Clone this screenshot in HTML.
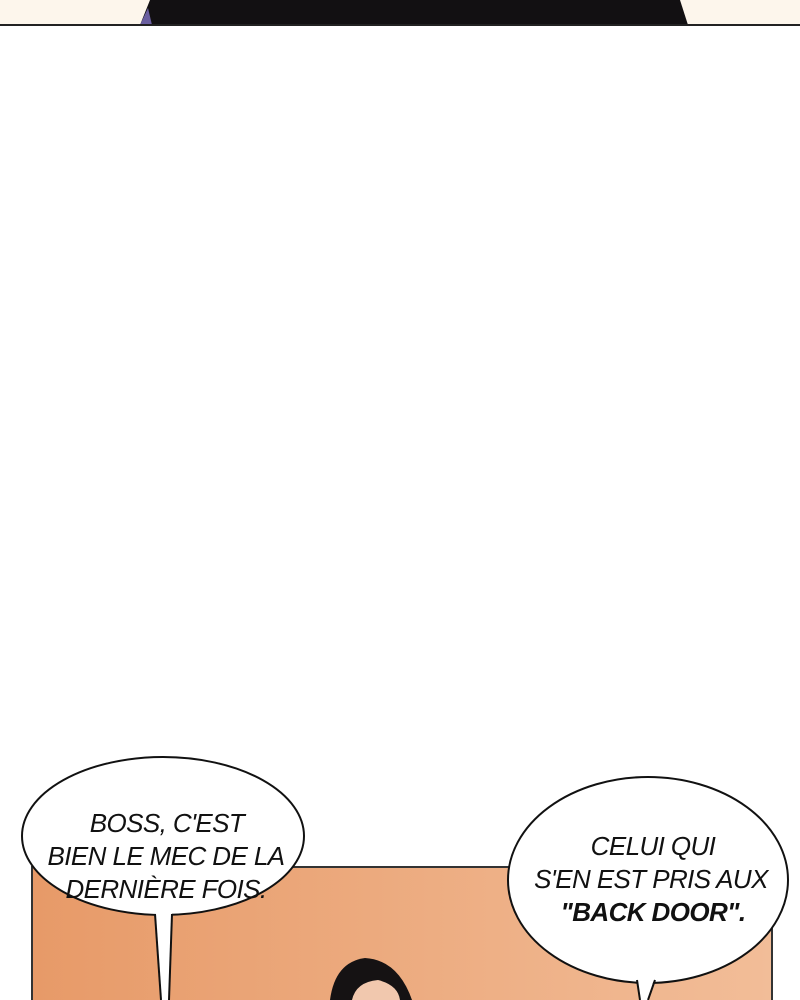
<!DOCTYPE html>
<html><head><style>
body{margin:0;width:800px;height:1000px;overflow:hidden;background:#fff;position:relative;font-family:"Liberation Sans",sans-serif}
</style></head><body>
<svg width="800" height="1000" style="position:absolute;left:0;top:0">
<defs><linearGradient id="g" x1="0" x2="1" y1="0" y2="0"><stop offset="0" stop-color="#e79a68"/><stop offset="1" stop-color="#f2bd98"/></linearGradient></defs>
<rect x="0" y="0" width="800" height="25" fill="#fdf6ec"/>
<path d="M140 25 L150 0 L680 0 L688 25 Z" fill="#121012"/>
<path d="M140 25 L148 8 L152 25 Z" fill="#6a5fa0"/>
<rect x="0" y="24" width="800" height="2" fill="#222"/>
<rect x="32" y="867" width="740" height="140" fill="url(#g)" stroke="#333" stroke-width="2"/>
<path d="M330 1000 Q335 962 365 958 Q398 960 412 1000 Z" fill="#151213"/>
<path d="M352 1000 Q356 982 378 980 Q398 985 400 1000 Z" fill="#f1c8ae"/>
<g fill="#fff" stroke="#111" stroke-width="2">
<ellipse cx="163" cy="836" rx="141" ry="79"/>
<ellipse cx="648" cy="880" rx="140" ry="103"/>
</g>
<path d="M155 910 L161 1001 L169 1001 L172 910 Z" fill="#fff"/>
<path d="M637 975 L640 1001 L648 1001 L655 975 Z" fill="#fff"/>
<g stroke="#111" stroke-width="2">
<line x1="155" y1="914" x2="161" y2="1000"/><line x1="172" y1="914" x2="169" y2="1000"/>
<line x1="637" y1="980" x2="640" y2="1000"/><line x1="655" y1="980" x2="648" y2="1000"/>
</g>
<g font-family="Liberation Sans, sans-serif" font-size="26" font-style="italic" text-anchor="middle" fill="#111" letter-spacing="-0.6">
<text x="167" y="832">BOSS, C'EST</text>
<text x="166" y="865">BIEN LE MEC DE LA</text>
<text x="166" y="898">DERNIÈRE FOIS.</text>
<text x="653" y="855">CELUI QUI</text>
<text x="651" y="888">S'EN  EST PRIS AUX</text>
<text x="653" y="921" font-weight="bold">"BACK DOOR".</text>
</g>
</svg>
</body></html>
